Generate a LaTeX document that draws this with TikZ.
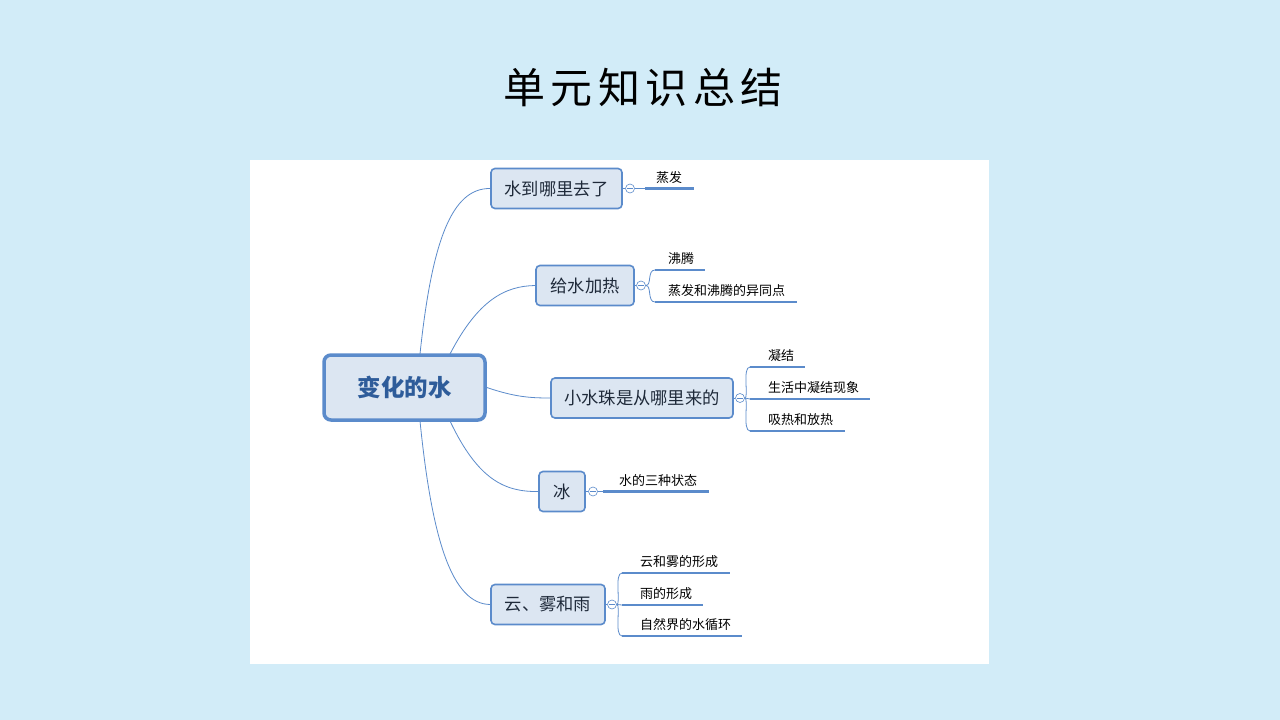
\documentclass[tikz,border=0pt]{standalone}
\usepackage{fontspec}
\setmainfont{Noto Sans CJK SC}
\newfontfamily\titlefont[LetterSpace=13]{Noto Sans CJK SC}
\usetikzlibrary{calc}
\definecolor{bgblue}{HTML}{D2ECF8}
\definecolor{lineblue}{HTML}{5B8BCB}
\definecolor{nodefill}{HTML}{DCE6F2}
\definecolor{centertext}{HTML}{2E5C9A}
\definecolor{branchtext}{HTML}{1F2A3A}
\tikzset{
  centernode/.style={draw=lineblue, line width=3.5pt, fill=nodefill, rounded corners=7pt,
    minimum width=161pt, minimum height=65pt, inner sep=0pt,
    font=\fontsize{23.5}{27}\selectfont\bfseries, text=centertext},
  branchnode/.style={draw=lineblue, line width=1.6pt, fill=nodefill, rounded corners=4pt,
    minimum height=40pt, inner sep=0pt, font=\fontsize{17.3}{20}\selectfont, text=branchtext},
  knob/.style={circle, draw=lineblue, line width=0.6pt, fill=white, minimum size=9pt, inner sep=0pt,
    path picture={\draw[lineblue, line width=0.6pt]
      ([xshift=-2.6pt]path picture bounding box.center) -- ([xshift=2.6pt]path picture bounding box.center);}},
  item/.style={anchor=south west, inner xsep=0pt, inner ysep=5pt, align=left,
    font=\fontsize{13}{15}\selectfont, text=black},
  uline/.style={draw=lineblue, line width=2.8pt},
  conn/.style={draw=lineblue, line width=0.8pt},
}
\begin{document}
\begin{tikzpicture}[x=1pt,y=-1pt]
\useasboundingbox (0,0) rectangle (1280,720);
\fill[bgblue] (0,0) rectangle (1280,720);
\fill[white] (250,160) rectangle (989,664);
\node[font=\titlefont\fontsize{42}{46}\selectfont, text=black] (title) at (643,87) {单元知识总结};

\node[centernode] (c) at (404.5,387.5) {变化的水};

\node[branchnode, minimum width=131pt] (b1) at (556.5,188.5) {水到哪里去了};
\node[branchnode, minimum width=98pt]  (b2) at (585,285.5) {给水加热};
\node[branchnode, minimum width=182pt] (b3) at (642,398) {小水珠是从哪里来的};
\node[branchnode, minimum width=46pt]  (b4) at (562,491.5) {冰};
\node[branchnode, minimum width=114pt] (b5) at (548,604.5) {云、雾和雨};

\coordinate (o1) at (420,354);
\coordinate (o2) at (450,354);
\coordinate (o4) at (450,421);
\coordinate (o5) at (420,421);

\draw[conn] (o1) .. controls (432,240) and (452,188) .. (b1.west);
\draw[conn] (o2) .. controls (478,300) and (505,286) .. (b2.west);
\draw[conn] (c.east) .. controls (515,397) and (530,398) .. (b3.west);
\draw[conn] (o4) .. controls (478,480) and (505,492) .. (b4.west);
\draw[conn] (o5) .. controls (432,540) and (452,604) .. (b5.west);

\node[knob] (k1) at (630,188.5) {};
\node[knob] (k2) at (641,285.5) {};
\node[knob] (k3) at (740,398) {};
\node[knob] (k4) at (593,491.5) {};
\node[knob] (k5) at (612,604.5) {};
\foreach \i in {1,...,5} { \draw[conn] (b\i.east) -- (k\i.west); }

% sub items
\node[item, text width=49pt]  (s11) at (645,188.5) {\hspace*{11pt}蒸发};
\node[item, text width=50pt]  (s21) at (655,270) {\hspace*{13pt}沸腾};
\node[item, text width=142pt] (s22) at (655,302) {\hspace*{13pt}蒸发和沸腾的异同点};
\node[item, text width=55pt]  (s31) at (750,367) {\hspace*{18pt}凝结};
\node[item, text width=120pt] (s32) at (750,399) {\hspace*{18pt}生活中凝结现象};
\node[item, text width=95pt]  (s33) at (750,431) {\hspace*{18pt}吸热和放热};
\node[item, text width=106pt] (s41) at (603,491.5) {\hspace*{16pt}水的三种状态};
\node[item, text width=108pt] (s51) at (622,573) {\hspace*{18pt}云和雾的形成};
\node[item, text width=81pt]  (s52) at (622,605) {\hspace*{18pt}雨的形成};
\node[item, text width=120pt] (s53) at (622,636) {\hspace*{18pt}自然界的水循环};

\foreach \s in {s11,s21,s22,s31,s32,s33,s41,s51,s52,s53} {
  \draw[uline] (\s.south west) -- (\s.south east);
}

\draw[conn] (k1.east) -- (s11.south west);
\draw[conn] (k4.east) -- (s41.south west);
\draw[conn] (k2.east) .. controls (652,285.5) and (647,270) .. (s21.south west);
\draw[conn] (k2.east) .. controls (652,285.5) and (647,302) .. (s22.south west);
\draw[conn] (k3.east) .. controls (749,398) and (742,367) .. (s31.south west);
\draw[conn] (k3.east) -- (s32.south west);
\draw[conn] (k3.east) .. controls (749,398) and (742,431) .. (s33.south west);
\draw[conn] (k5.east) .. controls (621,604.5) and (614,573) .. (s51.south west);
\draw[conn] (k5.east) -- (s52.south west);
\draw[conn] (k5.east) .. controls (621,604.5) and (614,636) .. (s53.south west);
\end{tikzpicture}
\end{document}
